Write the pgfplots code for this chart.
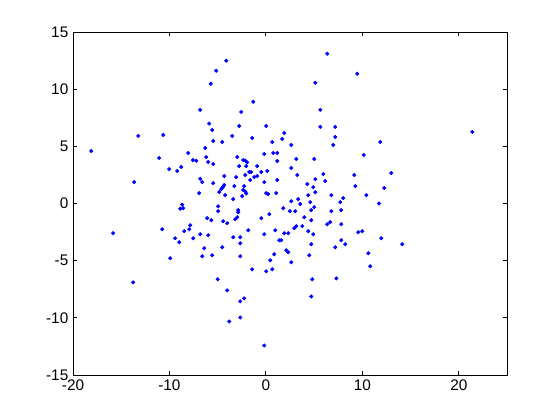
\documentclass[border=0pt]{standalone}
\usepackage{pgfplots}
\pgfplotsset{compat=1.18}
\usepackage{fontspec}
\setmainfont{Liberation Sans}
\begin{document}
\begin{tikzpicture}
\path (-54.75pt,-33.75pt) rectangle (365.25pt,281.25pt);
\begin{axis}[
  at={(0pt,0pt)}, anchor=south west,
  scale only axis, width=325.5pt, height=257.25pt,
  xmin=-20, xmax=25, ymin=-15, ymax=15,
  xtick={-20,-10,0,10,20}, ytick={-15,-10,-5,0,5,10,15},
  tick align=inside, major tick length=3pt,
  axis line style={line width=0.6pt}, every tick/.style={line width=0.6pt,black},
  tick label style={font=\fontsize{11.5}{13}\selectfont},
  /pgf/number format/assume math mode=true,
]
\addplot[only marks, mark=*, mark size=1.3pt, color={rgb,255:red,0;green,0;blue,255}] coordinates {
(-5.15,11.61) (-5.71,10.47) (-6.81,8.19) (-5.88,6.99) (-5.57,6.43) (-5.46,5.47)
(-13.24,5.91) (-10.65,5.99) (-18.12,4.59) (-8.06,4.42) (-6.29,4.85) (-11.07,3.98)
(-6.19,4.06) (-7.57,3.80) (-7.23,3.74) (-5.98,3.63) (-5.46,3.45) (-10.03,3.01)
(-9.20,2.84) (-8.78,3.19) (-13.66,1.87) (-6.81,2.16) (-6.60,1.87) (-5.46,1.78)
(-6.92,0.91) (-8.68,-0.10)
(-8.89,-0.46) (-8.58,-0.41) (-15.84,-2.60) (-10.75,-2.25) (-9.41,-3.04) (-8.99,-3.39)
(-8.47,-2.42) (-7.85,-1.90) (-7.95,-2.25) (-7.54,-3.04) (-6.81,-2.69) (-6.09,-1.28)
(-5.67,-1.46) (-5.98,-2.77) (-6.40,-3.91) (-6.60,-4.62) (-5.57,-4.53) (-9.92,-4.79)
(-13.76,-6.90) (-5.0,-6.63) (-4.95,-0.25) (-4.95,-0.67)
(21.40,6.26) (11.86,5.38) (10.15,4.24) (13.00,2.66) (12.27,1.35) (10.41,0.73)
(11.72,0.0) (11.96,-3.04) (14.14,-3.56) (10.62,-4.35) (10.82,-5.49) (9.58,-2.51) (9.99,-2.42)
(-4.11,12.49) (6.36,13.10) (9.47,11.35) (5.12,10.56) (-1.31,8.89) (-2.56,8.01)
(5.64,8.19) (-2.77,6.78) (0.03,6.78) (5.64,6.70) (7.19,6.70) (-3.49,5.91)
(1.90,6.17) (-4.53,5.38) (-1.42,5.73) (1.69,5.64) (0.66,5.38) (7.19,5.82)
(2.63,5.12) (6.98,5.12) (-0.17,4.33) (0.76,4.42) (1.18,4.42) (-2.97,4.06)
(3.15,3.89) (5.01,3.89) (-2.35,3.80) (-2.14,3.75) (-1.94,3.60) (1.18,3.71)
(-2.77,3.27) (-2.04,3.27) (-0.90,3.27) (2.63,3.10) (0.14,2.84) (-1.73,2.75)
(-1.53,2.75) (-0.48,2.75) (-4.32,2.40) (-3.08,2.31) (-2.14,2.49) (-1.21,2.31)
(-0.90,2.40) (-1.63,2.05) (3.25,2.49) (5.95,2.57) (9.16,2.49) (1.18,2.05)
(5.12,2.13) (6.15,1.96) (-0.17,1.87) (4.29,1.70) (9.27,1.52) (-4.32,1.61)
(-4.46,1.44) (-4.63,1.26) (-4.84,1.00) (-3.28,1.52) (-2.25,1.52) (-2.35,1.18)
(-2.14,1.05) (-2.04,0.88) (-4.22,0.73) (-3.39,0.38) (-2.46,0.64) (0.03,0.91)
(0.24,0.82) (1.07,0.91) (4.91,1.43) (5.12,0.99) (4.39,0.73) (6.78,0.73)
(8.02,0.47) (7.71,0.12) (2.63,0.20) (3.35,0.38) (3.56,-0.05) (4.60,0.12)
(-2.87,-0.58) (-2.87,-0.76) (-2.97,-1.20) (-3.18,-1.37) (-4.43,-1.55) (-4.01,-1.72)
(1.80,-0.41) (2.49,-0.67) (3.04,-0.67) (5.01,-0.32) (4.70,-0.58) (6.78,-0.67)
(7.81,-0.58) (0.35,-0.93) (-0.48,-1.28) (3.98,-1.20) (4.70,-1.46) (6.36,-1.81)
(6.67,-1.63) (7.81,-1.81) (-1.83,-2.34) (0.97,-2.34) (-0.17,-2.69) (1.90,-2.60)
(2.32,-2.60) (2.94,-2.16) (3.15,-1.98) (3.77,-1.98) (4.39,-2.42) (4.91,-2.69)
(-3.39,-2.95) (-2.66,-2.95) (-2.66,-3.48) (-4.53,-3.83) (1.38,-3.21) (1.59,-3.21)
(4.70,-3.56) (7.81,-3.21) (7.19,-3.83) (8.23,-3.56) (-2.66,-4.62) (0.86,-4.44)
(2.11,-4.09) (2.32,-4.27) (4.50,-4.53) (0.45,-4.97) (2.63,-5.14) (-1.42,-5.76)
(0.03,-5.93) (0.66,-5.76) (4.81,-6.63) (7.30,-6.55) (-4.01,-7.60) (-2.66,-8.56)
(-2.25,-8.30) (4.70,-8.13) (-3.80,-10.32) (-2.66,-9.97) (-0.17,-12.42)
};
\end{axis}
\end{tikzpicture}
\end{document}
